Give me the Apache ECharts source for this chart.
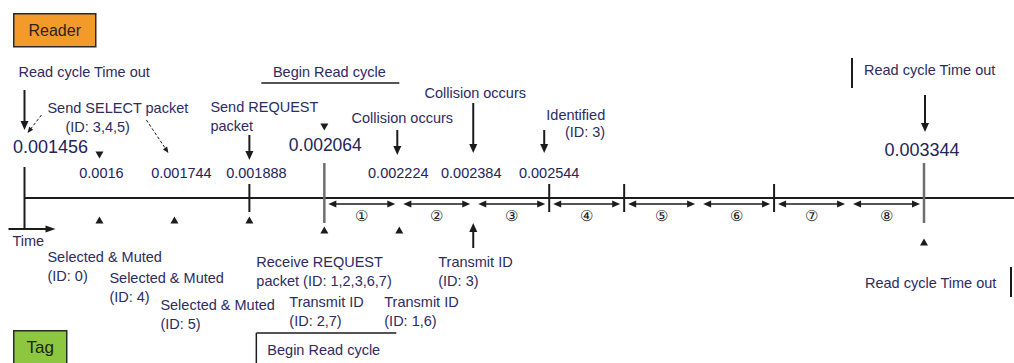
<!DOCTYPE html>
<html><head><meta charset="utf-8">
<script src="https://cdn.jsdelivr.net/npm/echarts@6/dist/echarts.min.js"></script>
<style>html,body{margin:0;padding:0;background:#fff}#c{width:1014px;height:363px}</style>
</head><body><div id="c"></div>
<script>
// ---- data ----
// time slots of the read cycle (uniformly spaced in the figure)
const slots = ['0.001456','0.0016','0.001744','0.001888','0.002064','0.002224','0.002384','0.002544','s8','s9','s10','s11','0.003344'];
const timeLabels = ['0.001456','0.0016','0.001744','0.001888','0.002064','0.002224','0.002384','0.002544','0.003344'];
const timeLabelSlots = [0,1,2,3,4,5,6,7,12];
const segmentLabels = ['①','②','③','④','⑤','⑥','⑦','⑧'];
const segmentStartSlot = 4;
const cycleBoundarySlots = [0,4,12];
const minorTickSlots = [3,7,8,10];
const tagMarkSlots = [1,2,3,4,5,12];
const readerMarkSlots = [1,4];
const readerNotes = ['Read cycle Time out','Send SELECT packet','(ID: 3,4,5)','Send REQUEST\npacket','Begin Read cycle','Collision occurs','Collision occurs','Identified\n(ID: 3)','Read cycle Time out'];
const readerNoteSlots = [0,1,1,3,4,5,6,7,12];
const readerArrowSlots = [0,3,5,6,7,12];
const tagNotes = ['Selected & Muted\n(ID: 0)','Selected & Muted\n(ID: 4)','Selected & Muted\n(ID: 5)','Receive REQUEST\npacket (ID: 1,2,3,6,7)','Transmit ID\n(ID: 2,7)','Transmit ID\n(ID: 1,6)','Transmit ID\n(ID: 3)','Read cycle Time out','Begin Read cycle'];
const tagNoteSlots = [1,2,3,4,4,5,6,12,4];
const tagArrowSlots = [6];

// ---- layout (positions / styles) ----
const AXIS_Y = 198;
const INK = '#1c1c1c', GRAY = '#6e6e6e', TXT = '#2d2b5f';
const FONT = '"Liberation Sans", Arial, sans-serif';
const timeLabelLayout = [
  {dx:26,y:147,fs:18},{dx:2,y:173,fs:14.5},{dx:7,y:173,fs:14.5},{dx:7,y:173,fs:14.5},
  {dx:1,y:145,fs:17.5},{dx:-1,y:173,fs:14.5},{dx:-3,y:173,fs:14.5},{dx:0,y:173,fs:14.5},{dx:-2,y:150,fs:18}];
const boundaryLayout = [{y1:167,y2:228,c:INK,w:2},{y1:163,y2:223,c:GRAY,w:2.5},{y1:163,y2:223,c:GRAY,w:2.5}];
const tagMarkY = [220,220,220,230,230,242];
const readerMarkY = [155,127];
const readerNoteLayout = [
  {dx:-6,y:72,al:'left'},{dx:-52,y:108,al:'left'},{dx:-34,y:127,al:'left'},{dx:-39,y:107,al:'left'},
  {dx:5,y:72,al:'center',under:[-63,75,83]},{dx:3,y:118,al:'center'},{dx:1,y:93,al:'center'},
  {dx:56,y:115,al:'right',lh:17},{dx:-60,y:70,al:'left',bar:[-72,58,88]}];
const readerArrowLayout = [{dx:0,y1:90,y2:130},{dx:0,y1:135,y2:160},{dx:-2,y1:130,y2:155},{dx:-1,y1:103,y2:153},{dx:-5,y1:130,y2:153},{dx:1,y1:95,y2:132}];
const tagNoteLayout = [
  {dx:-52,y:257},{dx:-65,y:278},{dx:-89,y:305},{dx:-68,y:262},{dx:-35,y:302},{dx:-15,y:302},
  {dx:-36,y:262},{dx:-59,y:283,bar:[87,267,297]},{dx:-57,y:350,box:[-68,72,333]}];
const tagArrowLayout = [{dx:-1,y1:248,y2:223}];

function pt(api, slot, dx, y){ const p = api.coord([slot, y]); return [p[0] + dx, p[1]]; }
function ln(x1,y1,x2,y2,stroke,w,dash){ return {type:'line', shape:{x1,y1,x2,y2}, style:{stroke, lineWidth:w, lineDash: dash || null}}; }
function head(x,y,ux,uy,len,wid,fill){
  const bx = x - ux*len, by = y - uy*len, px = -uy*wid/2, py = ux*wid/2;
  return {type:'polygon', shape:{points:[[x,y],[bx+px,by+py],[bx-px,by-py]]}, style:{fill}};
}
function arrow(x1,y1,x2,y2,o){
  o = o || {};
  const dx = x2-x1, dy = y2-y1, L = Math.hypot(dx,dy), ux = dx/L, uy = dy/L;
  const len = o.len || 8, wid = o.wid || 7, c = o.color || INK;
  const l = ln(x1,y1,x2-ux*len*0.6,y2-uy*len*0.6,c,o.w||2,o.dash);
  const out = [l, head(x2,y2,ux,uy,len,wid,c)];
  if (o.both){ l.shape.x1 = x1+ux*len*0.6; l.shape.y1 = y1+uy*len*0.6; out.push(head(x1,y1,-ux,-uy,len,wid,c)); }
  return out;
}
function txt(x, yCenterFirst, text, fs, align, lh, fill){
  lh = lh || 19;
  return {type:'text', style:{x, y:yCenterFirst - lh/2, text, fill: fill || TXT, fontSize: fs, fontFamily: FONT,
    align: align || 'left', verticalAlign:'top', lineHeight: lh}};
}
function tri(x, y, up){
  const w = 8, h = 7;
  return {type:'polygon', shape:{points: up ? [[x,y-h/2],[x-w/2,y+h/2],[x+w/2,y+h/2]] : [[x,y+h/2],[x-w/2,y-h/2],[x+w/2,y-h/2]]}, style:{fill: INK}};
}
function cs(name, slotArr, render){
  return {type:'custom', name, coordinateSystem:'cartesian2d', data: slotArr.map(s => [s, AXIS_Y]),
    renderItem: render, silent:true, animation:false, clip:false, encode:{x:0, y:1}};
}

const series = [
  cs('timeline', [0], (p, api) => {
    const a = pt(api, 0, 0, AXIS_Y);
    const t1 = pt(api, 0, -16, 229), t2 = pt(api, 0, 31, 229);
    return {type:'group', children:[
      ln(a[0], a[1], api.getWidth(), a[1], INK, 2),
      ...arrow(t1[0], t1[1], t2[0], t2[1], {len:10, wid:7, w:2}),
      txt(a[0]-12, 241, 'Time', 14.5, 'left', 18)
    ]};
  }),
  cs('cycle boundaries', cycleBoundarySlots, (p, api) => {
    const L = boundaryLayout[p.dataIndex], s = cycleBoundarySlots[p.dataIndex];
    const a = pt(api, s, 0, L.y1), b = pt(api, s, 0, L.y2);
    return ln(a[0], a[1], b[0], b[1], L.c, L.w);
  }),
  cs('slot ticks', minorTickSlots, (p, api) => {
    const s = minorTickSlots[p.dataIndex];
    const a = pt(api, s, 0, 184), b = pt(api, s, 0, 212);
    return ln(a[0], a[1], b[0], b[1], INK, 2);
  }),
  cs('time slots', segmentLabels.map((_, i) => segmentStartSlot + i), (p, api) => {
    const s = segmentStartSlot + p.dataIndex;
    const a = pt(api, s, 4, 204), b = pt(api, s + 1, -4, 204);
    return {type:'group', children:[
      ...arrow(a[0], a[1], b[0], b[1], {both:true, len:8, wid:7, w:1.6}),
      txt((a[0]+b[0])/2, 215, segmentLabels[p.dataIndex], 15, 'center', 16, INK)
    ]};
  }),
  cs('tag marks', tagMarkSlots, (p, api) => {
    const c = pt(api, tagMarkSlots[p.dataIndex], 0, tagMarkY[p.dataIndex]);
    return tri(c[0], c[1], true);
  }),
  cs('reader marks', readerMarkSlots, (p, api) => {
    const c = pt(api, readerMarkSlots[p.dataIndex], 0, readerMarkY[p.dataIndex]);
    return tri(c[0], c[1], false);
  }),
  cs('time labels', timeLabelSlots, (p, api) => {
    const L = timeLabelLayout[p.dataIndex];
    const c = pt(api, timeLabelSlots[p.dataIndex], L.dx, L.y);
    return txt(c[0], c[1], timeLabels[p.dataIndex], L.fs, 'center', L.fs + 4, '#23245a');
  }),
  cs('reader notes', readerNoteSlots, (p, api) => {
    const L = readerNoteLayout[p.dataIndex], s = readerNoteSlots[p.dataIndex];
    const c = pt(api, s, L.dx, L.y);
    const ch = [txt(c[0], c[1], readerNotes[p.dataIndex], 14.5, L.al, L.lh || 19)];
    if (L.under){ const a = pt(api, s, L.under[0], L.under[2]), b = pt(api, s, L.under[1], L.under[2]); ch.push(ln(a[0],a[1],b[0],b[1],INK,1.5)); }
    if (L.bar){ const a = pt(api, s, L.bar[0], L.bar[1]), b = pt(api, s, L.bar[0], L.bar[2]); ch.push(ln(a[0],a[1],b[0],b[1],INK,2)); }
    return {type:'group', children: ch};
  }),
  cs('reader arrows', readerArrowSlots, (p, api) => {
    const L = readerArrowLayout[p.dataIndex], s = readerArrowSlots[p.dataIndex];
    const a = pt(api, s, L.dx, L.y1), b = pt(api, s, L.dx, L.y2);
    return {type:'group', children: arrow(a[0], a[1], b[0], b[1], {len:9, wid:8, w:2})};
  }),
  cs('select pointers', [0, 2], (p, api) => {
    const seg = p.dataIndex === 0 ? [0, 17, 115, 3, 133] : [2, -28, 120, -6, 153];
    const a = pt(api, seg[0], seg[1], seg[2]), b = pt(api, seg[0], seg[3], seg[4]);
    return {type:'group', children: arrow(a[0], a[1], b[0], b[1], {len:6, wid:5, w:1, dash:[3,2]})};
  }),
  cs('tag notes', tagNoteSlots, (p, api) => {
    const L = tagNoteLayout[p.dataIndex], s = tagNoteSlots[p.dataIndex];
    const c = pt(api, s, L.dx, L.y);
    const ch = [txt(c[0], c[1], tagNotes[p.dataIndex], 14.5, 'left', 18.5)];
    if (L.bar){ const a = pt(api, s, L.bar[0], L.bar[1]), b = pt(api, s, L.bar[0], L.bar[2]); ch.push(ln(a[0],a[1],b[0],b[1],INK,2)); }
    if (L.box){
      const a = pt(api, s, L.box[0], L.box[2]), b = pt(api, s, L.box[1], L.box[2]);
      ch.push(ln(a[0], a[1], b[0], b[1], INK, 1.5));
      ch.push(ln(a[0], a[1], a[0], api.getHeight() + 2, INK, 1.5));
    }
    return {type:'group', children: ch};
  }),
  cs('tag arrows', tagArrowSlots, (p, api) => {
    const L = tagArrowLayout[p.dataIndex], s = tagArrowSlots[p.dataIndex];
    const a = pt(api, s, L.dx, L.y1), b = pt(api, s, L.dx, L.y2);
    return {type:'group', children: arrow(a[0], a[1], b[0], b[1], {len:9, wid:8, w:2})};
  })
];

const chart = echarts.init(document.getElementById('c'), null, {renderer:'svg', width:1014, height:363});
chart.setOption({
  animation: false,
  backgroundColor: '#ffffff',
  grid: {left: 24.5, right: 90, top: 0, bottom: 0},
  xAxis: {type:'category', data: slots, boundaryGap:false, show:false},
  yAxis: {type:'value', min:0, max:363, inverse:true, show:false},
  graphic: [
    {type:'group', left:13, top:13, children:[
      {type:'rect', shape:{x:0, y:0, width:82, height:33}, style:{fill:'#F39A2B', stroke:'#2a2a2a', lineWidth:1.5}},
      {type:'text', style:{x:41, y:17, text:'Reader', fill:'#2b2418', fontSize:16, fontFamily:FONT, align:'center', verticalAlign:'middle'}}
    ]},
    {type:'group', left:13, top:330, children:[
      {type:'rect', shape:{x:0, y:0, width:53, height:40}, style:{fill:'#8DC63F', stroke:'#2a2a2a', lineWidth:1.5}},
      {type:'text', style:{x:26.5, y:17, text:'Tag', fill:'#1d2410', fontSize:17, fontFamily:FONT, align:'center', verticalAlign:'middle'}}
    ]}
  ],
  series
});
</script>
</body></html>
